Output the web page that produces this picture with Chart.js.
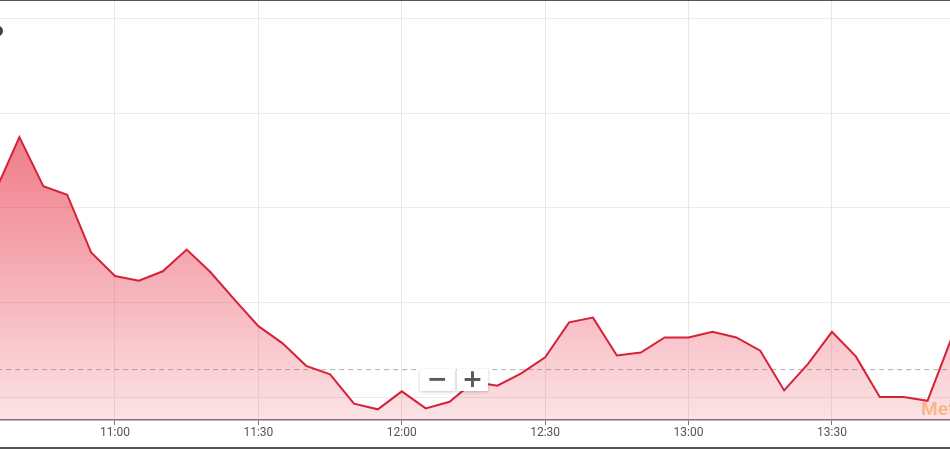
<!DOCTYPE html>
<html>
<head>
<meta charset="utf-8">
<script src="https://cdn.jsdelivr.net/npm/chart.js@4"></script>
<style>
  html, body { margin: 0; padding: 0; background: #fff; }
  #wrap { position: relative; width: 950px; height: 450px; overflow: hidden; font-family: Roboto, "Noto Sans", sans-serif; }
  #chart { position: absolute; left: 0; top: 0; }
  .topline { position: absolute; left: 0; top: 0; width: 950px; height: 1px; background: #555; }
  .bottomline { position: absolute; left: 0; top: 447px; width: 950px; height: 2px; background: #555; }
  .dot { position: absolute; left: -6px; top: 26px; width: 9px; height: 10px; border-radius: 50%; background: #2f4b55; }
  .zoom { position: absolute; top: 369px; height: 22px; background: #fff; box-shadow: 0 1px 3px rgba(0,0,0,0.22); color: #5a5a5a; font-weight: bold; font-size: 25px; line-height: 20px; text-align: center; font-family: "DejaVu Sans", sans-serif; }
  .mark { position: absolute; left: 921px; top: 397px; font-size: 19px; font-weight: bold; color: rgba(247, 170, 110, 0.75); white-space: nowrap; }
</style>
</head>
<body>
<div id="wrap">
  <canvas id="chart" width="950" height="450"></canvas>
  <div class="topline"></div>
  <div class="bottomline"></div>
  <div class="dot"></div>
  <div class="zoom" style="left:420px;width:35px;">&minus;</div>
  <div class="zoom" style="left:457px;width:31px;">+</div>
  <div class="mark">Met</div>
</div>
<script>
// Datos
const times = ["10:35", "10:40", "10:45", "10:50", "10:55", "11:00", "11:05", "11:10", "11:15", "11:20",
  "11:25", "11:30", "11:35", "11:40", "11:45", "11:50", "11:55", "12:00", "12:05", "12:10",
  "12:15", "12:20", "12:25", "12:30", "12:35", "12:40", "12:45", "12:50", "12:55", "13:00",
  "13:05", "13:10", "13:15", "13:20", "13:25", "13:30", "13:35", "13:40", "13:45", "13:50", "13:55"];
const prices = [102.18, 102.75, 102.23, 102.14, 101.53, 101.28, 101.23, 101.33, 101.56, 101.32,
  101.03, 100.75, 100.57, 100.33, 100.24, 99.93, 99.87, 100.06, 99.88, 99.95,
  100.16, 100.12, 100.25, 100.42, 100.79, 100.84, 100.44, 100.47, 100.63, 100.63,
  100.69, 100.63, 100.49, 100.07, 100.35, 100.69, 100.43, 100.00, 100.00, 99.96, 100.62];
const prevClose = 100.29;
const tickTimes = ["11:00", "11:30", "12:00", "12:30", "13:00", "13:30"];
const yGridValues = [100, 101, 102, 103, 104];

const toMinutes = (t) => {
  const [h, m] = t.split(":").map(Number);
  return h * 60 + m;
};
const toLabel = (v) => {
  const h = Math.floor(v / 60);
  const m = Math.round(v % 60);
  return h + ":" + String(m).padStart(2, "0");
};

const points = times.map((t, i) => ({ x: toMinutes(t), y: prices[i] }));
const xMin = 635.94;
const xMax = 834.7;
const closeLine = [{ x: xMin - 10, y: prevClose }, { x: xMax + 10, y: prevClose }];

// Degradado del relleno
const fillGradient = (context) => {
  const { ctx, chartArea } = context.chart;
  if (!chartArea) return "rgba(232,60,80,0.4)";
  const g = ctx.createLinearGradient(0, chartArea.top, 0, chartArea.bottom);
  g.addColorStop(0, "rgba(232,55,75,0.9)");
  g.addColorStop(1, "rgba(232,55,75,0.14)");
  return g;
};

new Chart(document.getElementById("chart"), {
  type: "line",
  data: {
    datasets: [
      {
        data: points,
        borderColor: "#d62238",
        borderWidth: 2,
        pointRadius: 0,
        fill: "start",
        backgroundColor: fillGradient,
        tension: 0
      },
      {
        data: closeLine,
        borderColor: "#b0b0b0",
        borderWidth: 1,
        borderDash: [5, 4],
        pointRadius: 0,
        fill: false
      }
    ]
  },
  options: {
    responsive: false,
    animation: false,
    layout: { padding: 0 },
    plugins: { legend: { display: false }, tooltip: { enabled: false } },
    scales: {
      x: {
        type: "linear",
        min: xMin,
        max: xMax,
        afterBuildTicks: (s) => { s.ticks = tickTimes.map(t => ({ value: toMinutes(t) })); },
        afterFit: (s) => { s.height = 30; },
        ticks: {
          callback: (v) => toLabel(v),
          color: "#555",
          font: { family: "Roboto", size: 12 },
          padding: 1,
          maxRotation: 0
        },
        grid: { color: "#e8e8e8", tickColor: "#777", tickLength: 5 },
        border: { display: true, color: "#777", width: 1.5 }
      },
      y: {
        min: 99.757,
        max: 104.2,
        afterBuildTicks: (s) => { s.ticks = yGridValues.map(v => ({ value: v })); },
        afterFit: (s) => { s.width = 0; },
        ticks: { display: false },
        grid: { color: "#ececec", drawTicks: false },
        border: { display: false }
      }
    }
  }
});
</script>
</body>
</html>
